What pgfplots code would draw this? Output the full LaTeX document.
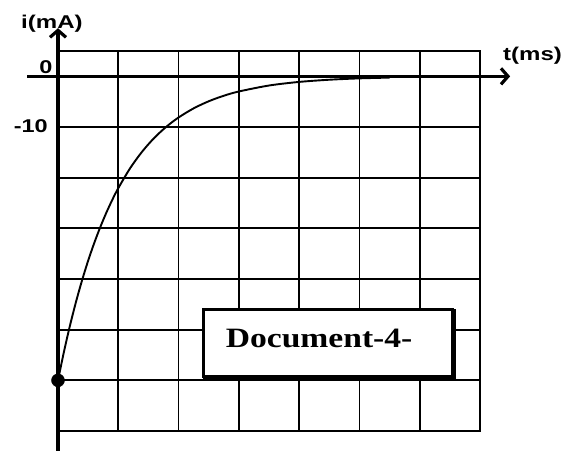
\documentclass[border=0pt]{standalone}
\usepackage{fontspec}
\setmainfont{Liberation Serif}
\setsansfont{Liberation Sans}
\usepackage{pgfplots}
\pgfplotsset{compat=1.18}
\usetikzlibrary{arrows.meta}
\begin{document}
\begin{tikzpicture}
\useasboundingbox (0,0) rectangle (578pt,450pt);
\begin{axis}[
  at={(58pt,19pt)}, anchor=south west,
  scale only axis, width=422pt, height=380pt,
  xmin=0, xmax=7, ymin=-70, ymax=5,
  xtick={0,1,2,3,4,5,6,7}, ytick={-70,-60,-50,-40,-30,-20,-10,0},
  xticklabels={}, yticklabels={},
  major tick length=0pt,
  grid=major,
  major grid style={black, line width=1.8pt},
  axis line style={black, line width=2.4pt},
  clip=false,
]
% thick axes with arrows
\draw[black, line width=3.8pt, -{Straight Barb[length=7pt,width=16pt,line width=3.2pt]}] (axis cs:0,-75) -- (axis cs:0,9.5);
\draw[black, line width=3.6pt, -{Straight Barb[length=7pt,width=16pt,line width=3.2pt]}] (axis cs:-0.51,0) -- (axis cs:7.5,0);
% curve
\addplot[black, line width=1.9pt, smooth] coordinates {
(0,-60) (0.1,-54.29) (0.2,-49.12) (0.3,-44.45) (0.4,-40.22) (0.5,-36.39)
(0.6,-32.93) (0.7,-29.80) (0.8,-26.96) (0.9,-24.39) (1.0,-22.07)
(1.2,-18.07) (1.4,-14.80) (1.6,-12.11) (1.8,-9.92) (2.0,-8.12)
(2.25,-6.32) (2.5,-4.92) (2.75,-3.83) (3.0,-2.99) (3.5,-1.81)
(4.0,-1.10) (4.5,-0.67) (5.0,-0.40) (5.5,-0.25)
};
\addplot[only marks, mark=*, mark size=6.5pt, black] coordinates {(0,-60)};
% document box
\draw[black, line width=3pt, fill=white] (axis cs:2.42,-46.1) rectangle (axis cs:6.55,-59.2);
\draw[black, line width=2.5pt] (axis cs:2.40,-59.4) -- (axis cs:6.575,-59.4) -- (axis cs:6.575,-46.0);
\node[anchor=west, inner sep=0pt] at (axis cs:2.78,-51.7)
  {\scalebox{1.2}[1]{\fontsize{28}{30}\selectfont\bfseries Document-4-}};
\end{axis}
\node[anchor=base west, inner sep=0pt] at (21pt,421pt)
  {\scalebox{1.3}[1]{\fontsize{18.5}{20}\selectfont\sffamily\bfseries i(mA)}};
\node[anchor=base west, inner sep=0pt] at (503pt,389pt)
  {\scalebox{1.3}[1]{\fontsize{18.5}{20}\selectfont\sffamily\bfseries t(ms)}};
\node[anchor=east, inner sep=0pt] at (48pt,324pt)
  {\scalebox{1.27}[1]{\fontsize{18.5}{20}\selectfont\sffamily\bfseries -10}};
\node[anchor=base, inner sep=0pt] at (46pt,376pt)
  {\scalebox{1.27}[1]{\fontsize{18.5}{20}\selectfont\sffamily\bfseries 0}};
\end{tikzpicture}
\end{document}
